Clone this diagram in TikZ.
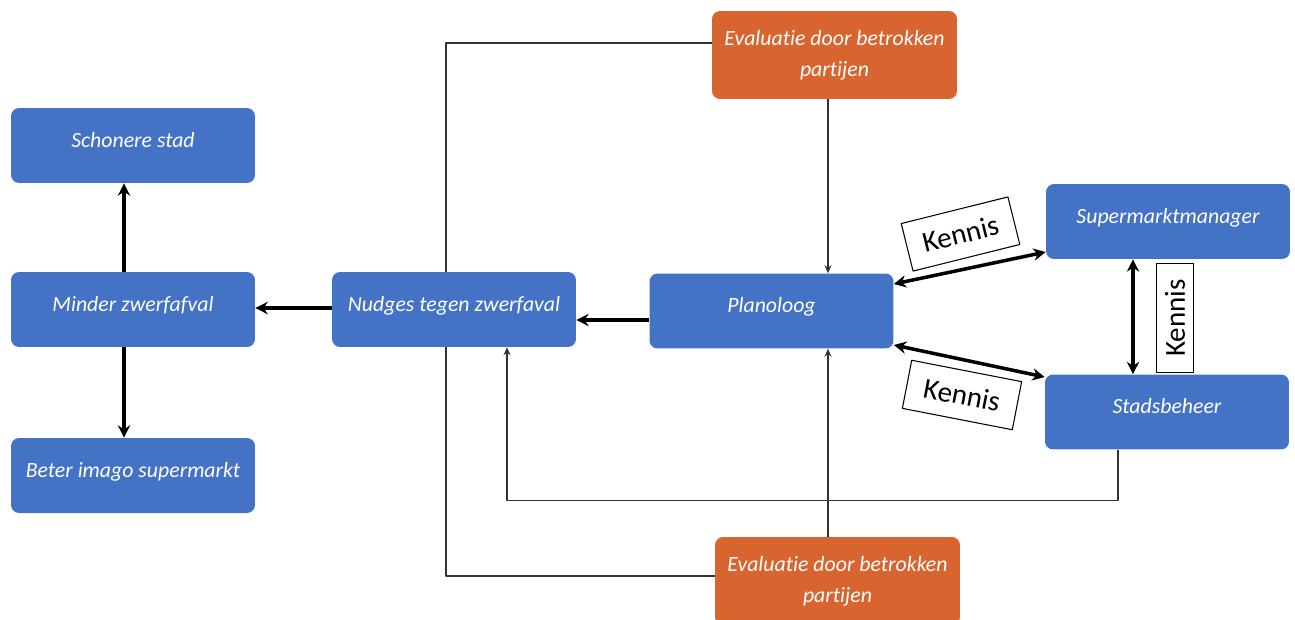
\documentclass[tikz,border=0pt]{standalone}
\usepackage{fontspec}
\setmainfont[Ligatures=NoCommon]{Carlito}
\usetikzlibrary{arrows.meta}
\definecolor{blauw}{HTML}{4472C4}
\definecolor{oranje}{HTML}{D8642F}
\begin{document}
\begin{tikzpicture}[x=0.02cm,y=-0.02cm,line join=round,
		blok/.style={fill=blauw,rounded corners=0.16cm,minimum width=4.88cm,minimum height=1.5cm,text=white,font=\fontsize{12.4}{15}\selectfont\itshape,text height=9pt,text depth=7pt},
		evalblok/.style={fill=oranje,rounded corners=0.16cm,minimum width=4.9cm,minimum height=1.76cm,text=white,align=center,font=\fontsize{12.4}{17.6}\selectfont\itshape},
		kennis/.style={draw,line width=0.6pt,fill=white,font=\fontsize{16.5}{18}\selectfont,inner sep=0pt},
		dik/.style={line width=2pt,>={Stealth[length=7pt,width=7pt]}},
		dun/.style={line width=0.6pt,draw=black!80,>={Stealth[length=4.5pt,width=4pt]}}]
	\useasboundingbox (0,0) rectangle (1295,619);
	\foreach \n/\x/\y/\t in {schoon/133/145.5/Schonere stad,minder/133/309.5/Minder zwerfafval,beter/133/475.5/Beter imago supermarkt,nudge/454/309.5/Nudges tegen zwerfaval,plan/771.5/311/Planoloog,super/1168/221.5/Supermarktmanager,stad/1167/412/Stadsbeheer}
		\node[blok] (\n) at (\x,\y) {\t};
	\node[evalblok] (evtop) at (834.5,55) {Evaluatie door betrokken\\partijen};
	\node[evalblok] (evbot) at (837.5,581) {Evaluatie door betrokken\\partijen};
	% dunne lijnen
	\draw[dun,->] (evtop.south -| 828,0) -- (plan.north -| 828,0);
	\draw[dun,->] (evbot.north -| 828,0) -- (plan.south -| 828,0);
	\draw[dun] (evtop.west |- 0,43) -| (nudge.north -| 446,0);
	\draw[dun] (evbot.west |- 0,576) -| (nudge.south -| 446,0);
	\draw[dun,->] (stad.south -| 1118,0) -- ++(0,51) -| (nudge.south -| 507,0);
	% dikke pijlen
	\draw[dik,->] (plan.west |- 0,320) -- (nudge.east |- 0,320);
	\draw[dik,->] (nudge.west |- 0,308) -- (minder.east |- 0,308);
	\draw[dik,->] (minder.north -| 124,0) -- (schoon.south -| 124,0);
	\draw[dik,->] (minder.south -| 124,0) -- (beter.north -| 124,0);
	\draw[dik,<->] (plan.east |- 0,284) -- (super.west |- 0,252);
	\draw[dik,<->] (plan.east |- 0,345) -- (stad.west |- 0,377);
	\draw[dik,<->] (super.south -| 1133,0) -- (stad.north -| 1133,0);
	% kennis
	\node[kennis,rotate=14,minimum width=2.2cm,minimum height=0.98cm] (k1) at (960.5,234) {Kennis};
	\node[kennis,rotate=-11,minimum width=2.24cm,minimum height=0.98cm] (k2) at (962,395) {Kennis};
	\node[kennis,rotate=90,minimum width=2.18cm,minimum height=0.74cm] (k3) at (1175,318) {Kennis};
\end{tikzpicture}
\end{document}
